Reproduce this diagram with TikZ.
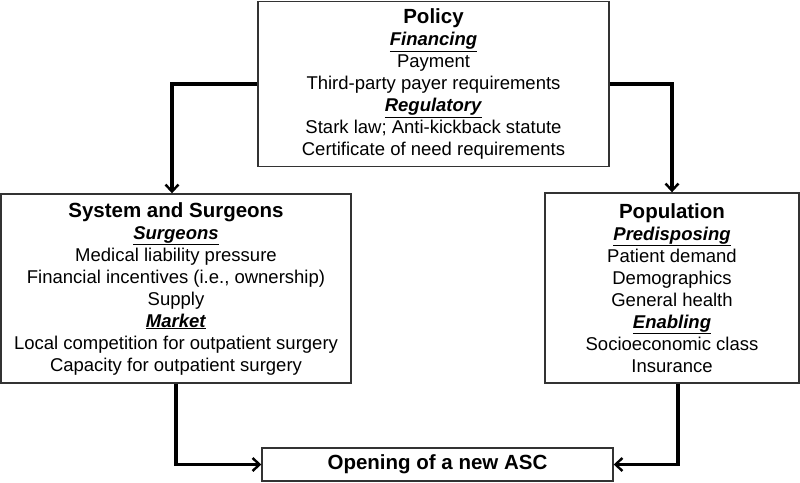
\documentclass[tikz,border=0pt]{standalone}
\usepackage{fontspec}
\setmainfont{Liberation Sans}
\usetikzlibrary{arrows.meta,calc}
\newcommand{\subhd}[1]{\underline{\textbf{\textit{#1}}}}
\newcommand{\ttl}[1]{{\fontsize{20.5}{22}\selectfont\textbf{#1}}}
\tikzset{
  box/.style={draw=black!80, line width=1.4pt, align=center, inner sep=0pt,
    font=\fontsize{18.5}{22}\selectfont},
  arr/.style={line width=3.2pt, -{Straight Barb[length=7pt,width=13pt,line width=2.4pt]}}
}
\begin{document}
\begin{tikzpicture}[x=1pt,y=1pt]
\useasboundingbox (0,0) rectangle (800,-482);
\node[box, minimum width=351, minimum height=165] (policy) at (433.5,-84)
 {\ttl{Policy}\\ \subhd{Financing}\\ Payment\\ Third-party payer requirements\\ \subhd{Regulatory}\\ Stark law; Anti-kickback statute\\ Certificate of need requirements};
\node[box, minimum width=350, minimum height=189] (sys) at (176,-288.5)
 {\ttl{System and Surgeons}\\ \subhd{Surgeons}\\ Medical liability pressure\\ Financial incentives (i.e., ownership)\\ Supply\\ \subhd{Market}\\ Local competition for outpatient surgery\\ Capacity for outpatient surgery};
\node[box, minimum width=254, minimum height=190] (pop) at (672,-288)
 {\ttl{Population}\\ \subhd{Predisposing}\\ Patient demand\\ Demographics\\ General health\\ \subhd{Enabling}\\ Socioeconomic class\\ Insurance};
\node[box, minimum width=351, minimum height=33] (open) at (437.5,-464.5)
 {\ttl{Opening of a new ASC}};
\draw[arr] (policy.west) -| ($(sys.north)+(-4,0)$);
\draw[arr] (policy.east) -| (pop.north);
\draw[arr] (sys.south) |- (open.west);
\draw[arr] ($(pop.south)+(6,0)$) |- (open.east);
\end{tikzpicture}
\end{document}
